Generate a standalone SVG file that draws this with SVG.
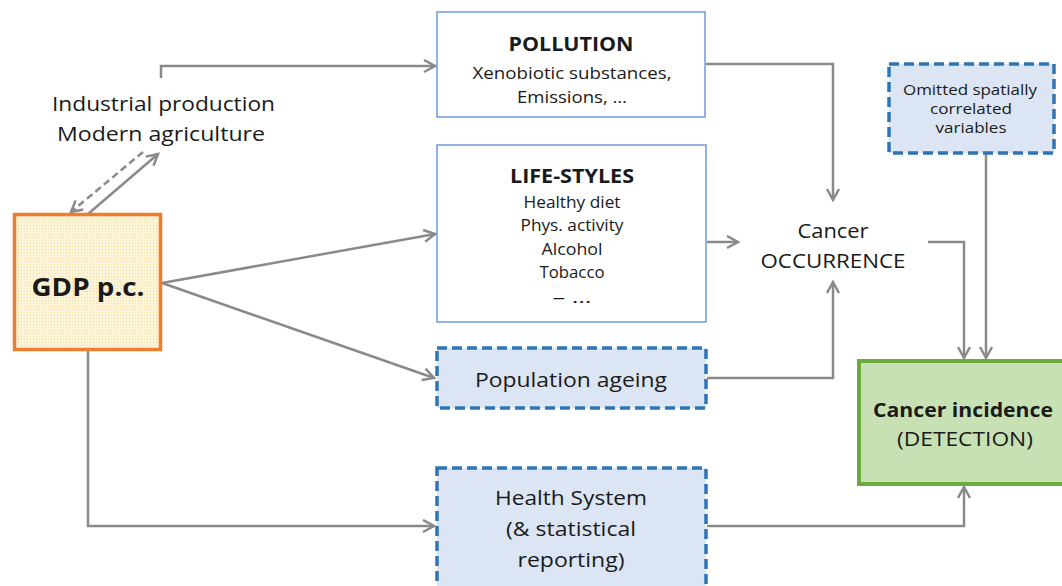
<svg xmlns="http://www.w3.org/2000/svg" width="1062" height="586" viewBox="0 0 1062 586">
<style>
text{font-family:"Open Sans","Liberation Sans",Arial,sans-serif;fill:#1a1a1a;text-anchor:middle}
.b{font-weight:bold}
.c{fill:none;stroke:#8a8a8a;stroke-width:2.5}
.solid{fill:#fff;stroke:#6f9bd8;stroke-width:1.5}
.dash{fill:#dbe5f3;stroke:#2e75b6;stroke-width:3.5;stroke-dasharray:10 5}
</style>
<defs>
<marker id="a" markerUnits="userSpaceOnUse" markerWidth="16" markerHeight="16" refX="12" refY="7" orient="auto">
<path d="M1,1 L12,7 L1,13" fill="none" stroke="#8a8a8a" stroke-width="2.5"/>
</marker>
<pattern id="dots" width="3" height="3" patternUnits="userSpaceOnUse">
<rect width="3" height="3" fill="#fdf3d6"/>
<rect width="1" height="1" fill="#f4dca0"/>
</pattern>
</defs>
<rect width="1062" height="586" fill="#fff"/>
<g id="connectors">
<path class="c" d="M161,78 V66 H435" marker-end="url(#a)"/>
<path class="c" d="M143,152 L71,212" stroke-dasharray="7 4" marker-end="url(#a)"/>
<path class="c" d="M88,214 L158,154" marker-end="url(#a)"/>
<path class="c" d="M162,283 L435,234" marker-end="url(#a)"/>
<path class="c" d="M162,283 L434,378" marker-end="url(#a)"/>
<path class="c" d="M88,351 V526 H434" marker-end="url(#a)"/>
<path class="c" d="M706,64 H833 V200" marker-end="url(#a)"/>
<path class="c" d="M707,242 H738" marker-end="url(#a)"/>
<path class="c" d="M707,378 H833 V282" marker-end="url(#a)"/>
<path class="c" d="M928,242 H964 V358" marker-end="url(#a)"/>
<path class="c" d="M986,153 V358" marker-end="url(#a)"/>
<path class="c" d="M707,526 H964 V487" marker-end="url(#a)"/>
</g>
<g id="industrial">
<text x="163.5" y="111" font-size="20" textLength="223" lengthAdjust="spacingAndGlyphs">Industrial production</text>
<text x="161" y="141" font-size="20" textLength="208" lengthAdjust="spacingAndGlyphs">Modern agriculture</text>
</g>
<g id="gdp">
<rect x="14.5" y="214.5" width="146" height="135" fill="url(#dots)" stroke="#ed7d31" stroke-width="3.5"/>
<text x="88" y="296" font-size="25" class="b" textLength="113" lengthAdjust="spacingAndGlyphs">GDP p.c.</text>
</g>
<g id="pollution">
<rect class="solid" x="437" y="12" width="268" height="105"/>
<text x="571" y="51" font-size="19" class="b" textLength="125" lengthAdjust="spacingAndGlyphs">POLLUTION</text>
<text x="572" y="79" font-size="16.5" textLength="199" lengthAdjust="spacingAndGlyphs">Xenobiotic substances,</text>
<text x="572" y="103" font-size="16.5" textLength="110" lengthAdjust="spacingAndGlyphs">Emissions, …</text>
</g>
<g id="lifestyles">
<rect class="solid" x="437" y="145" width="269" height="177"/>
<text x="572" y="183" font-size="19" class="b" textLength="124" lengthAdjust="spacingAndGlyphs">LIFE-STYLES</text>
<text x="572" y="208" font-size="16.5" textLength="97" lengthAdjust="spacingAndGlyphs">Healthy diet</text>
<text x="572" y="231" font-size="16.5" textLength="103" lengthAdjust="spacingAndGlyphs">Phys. activity</text>
<text x="572" y="255" font-size="16.5" textLength="61" lengthAdjust="spacingAndGlyphs">Alcohol</text>
<text x="572" y="278" font-size="16.5" textLength="65" lengthAdjust="spacingAndGlyphs">Tobacco</text>
<text x="572" y="303" font-size="16.5" textLength="39" lengthAdjust="spacingAndGlyphs">–  …</text>
</g>
<g id="ageing">
<rect class="dash" x="437" y="348" width="269" height="60"/>
<text x="571" y="387" font-size="20" textLength="192" lengthAdjust="spacingAndGlyphs">Population ageing</text>
</g>
<g id="health">
<rect class="dash" x="437" y="468" width="269" height="125"/>
<text x="571" y="505" font-size="20" textLength="152" lengthAdjust="spacingAndGlyphs">Health System</text>
<text x="571" y="536" font-size="20" textLength="130" lengthAdjust="spacingAndGlyphs">(&amp; statistical</text>
<text x="571" y="567" font-size="20" textLength="107" lengthAdjust="spacingAndGlyphs">reporting)</text>
</g>
<g id="occurrence">
<text x="833" y="238" font-size="20.5" textLength="71" lengthAdjust="spacingAndGlyphs">Cancer</text>
<text x="833" y="268" font-size="20.5" textLength="145" lengthAdjust="spacingAndGlyphs">OCCURRENCE</text>
</g>
<g id="omitted">
<rect class="dash" x="889" y="64" width="165" height="89"/>
<text x="970" y="95" font-size="15" textLength="134" lengthAdjust="spacingAndGlyphs">Omitted spatially</text>
<text x="971" y="114" font-size="15" textLength="82" lengthAdjust="spacingAndGlyphs">correlated</text>
<text x="971" y="133" font-size="15" textLength="71" lengthAdjust="spacingAndGlyphs">variables</text>
</g>
<g id="incidence">
<rect x="859" y="361" width="210" height="123" fill="#c7e0b4" stroke="#6aab3f" stroke-width="4"/>
<text x="963" y="417" font-size="20" class="b" textLength="180" lengthAdjust="spacingAndGlyphs">Cancer incidence</text>
<text x="965" y="446" font-size="20.5" textLength="136" lengthAdjust="spacingAndGlyphs">(DETECTION)</text>
</g>
</svg>
